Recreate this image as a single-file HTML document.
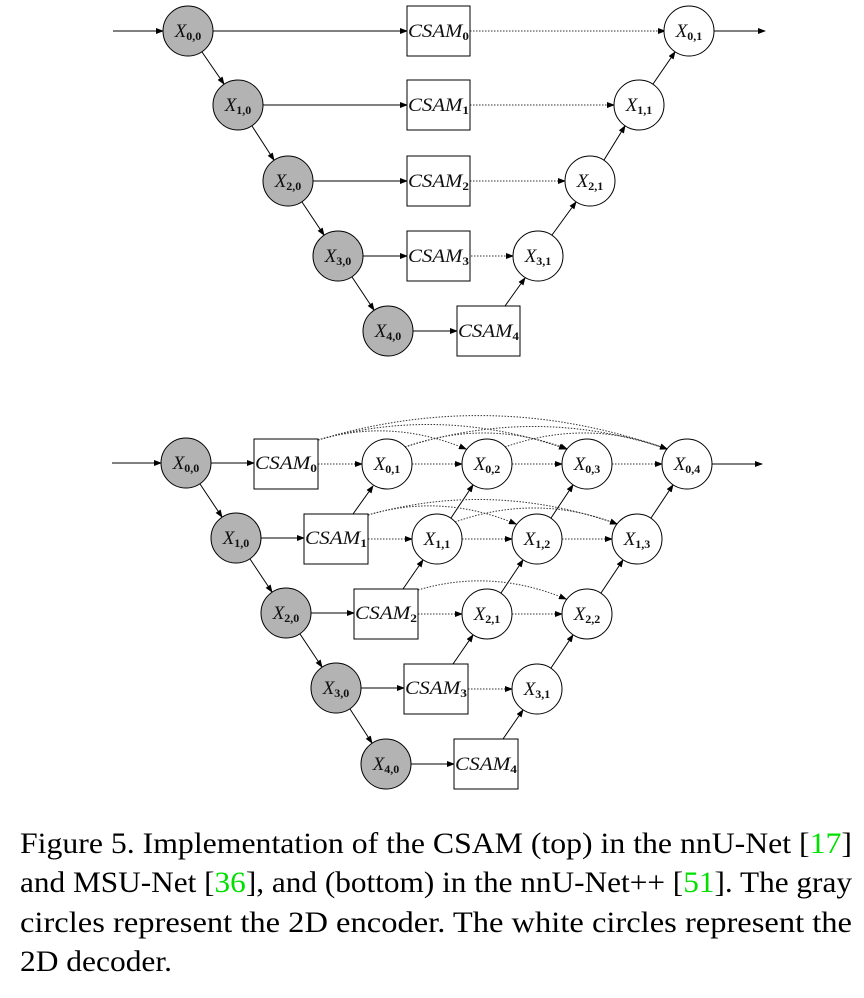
<!DOCTYPE html>
<html><head><meta charset="utf-8"><style>
body{margin:0;background:#fff;width:864px;height:998px;overflow:hidden}
svg{display:block}
.l{font-family:"Liberation Serif",serif;font-size:19px;fill:#111}
.s{font-size:12px;font-style:normal;font-weight:bold}
.cap{font-family:"Liberation Serif",serif;font-size:30px;fill:#000}
</style></head><body>
<svg width="864" height="998" viewBox="0 0 864 998">
<defs>
<marker id="a" markerWidth="8" markerHeight="6" refX="7" refY="3" orient="auto" markerUnits="userSpaceOnUse"><path d="M0,0 L8,3 L0,6 Z" fill="#000"/></marker>
</defs>
<g stroke="#000" stroke-width="1" fill="none" marker-end="url(#a)">
<line x1="113" y1="31" x2="163" y2="31"/>
<line x1="213" y1="31" x2="407" y2="31"/>
<line x1="263" y1="105" x2="407" y2="105"/>
<line x1="313" y1="181" x2="407" y2="181"/>
<line x1="363" y1="256" x2="407" y2="256"/>
<line x1="413" y1="331" x2="457" y2="331"/>
<line x1="202" y1="52" x2="224" y2="84"/>
<line x1="252" y1="126" x2="274" y2="160"/>
<line x1="302" y1="202" x2="324" y2="235"/>
<line x1="352" y1="277" x2="374" y2="310"/>
<line x1="505" y1="306" x2="525" y2="278"/>
<line x1="552" y1="235" x2="576" y2="202"/>
<line x1="604" y1="160" x2="625" y2="126"/>
<line x1="653" y1="84" x2="675" y2="52"/>
<line x1="714" y1="31" x2="765" y2="31"/>
<line x1="112" y1="463" x2="161" y2="463"/>
<line x1="211" y1="463" x2="254" y2="463"/>
<line x1="261" y1="538" x2="304" y2="538"/>
<line x1="311" y1="613" x2="354" y2="613"/>
<line x1="361" y1="688" x2="404" y2="688"/>
<line x1="411" y1="764" x2="454" y2="764"/>
<line x1="200" y1="484" x2="222" y2="517"/>
<line x1="250" y1="559" x2="272" y2="592"/>
<line x1="300" y1="634" x2="322" y2="667"/>
<line x1="350" y1="709" x2="372" y2="743"/>
<line x1="353" y1="514" x2="373" y2="486"/>
<line x1="451" y1="518" x2="473" y2="485"/>
<line x1="551" y1="518" x2="573" y2="485"/>
<line x1="651" y1="518" x2="673" y2="485"/>
<line x1="403" y1="589" x2="423" y2="560"/>
<line x1="501" y1="593" x2="523" y2="560"/>
<line x1="601" y1="593" x2="623" y2="560"/>
<line x1="453" y1="664" x2="473" y2="635"/>
<line x1="551" y1="668" x2="573" y2="635"/>
<line x1="503" y1="739" x2="523" y2="710"/>
<line x1="712" y1="464" x2="762" y2="464"/>
</g>
<g stroke="#333" stroke-width="1" stroke-dasharray="1.5,1.5" fill="none" marker-end="url(#a)">
<line x1="470" y1="31" x2="665" y2="31"/>
<line x1="470" y1="105" x2="614" y2="105"/>
<line x1="470" y1="181" x2="565" y2="181"/>
<line x1="471" y1="256" x2="513" y2="256"/>
<line x1="318" y1="464" x2="362" y2="464"/>
<line x1="412" y1="464" x2="462" y2="464"/>
<line x1="512" y1="464" x2="562" y2="464"/>
<line x1="612" y1="464" x2="662" y2="464"/>
<line x1="368" y1="539" x2="412" y2="539"/>
<line x1="462" y1="539" x2="512" y2="539"/>
<line x1="562" y1="539" x2="612" y2="539"/>
<line x1="418" y1="614" x2="462" y2="614"/>
<line x1="512" y1="614" x2="562" y2="614"/>
<line x1="468" y1="689" x2="512" y2="689"/>
<path d="M318,440 Q392,418 466,449"/>
<path d="M318,440 Q442,405 566,449"/>
<path d="M318,440 Q492,387 667,449"/>
<path d="M405,447 Q487,418 567,449"/>
<path d="M405,447 Q537,405 667,449"/>
<path d="M505,447 Q587,418 667,449"/>
<path d="M368,515 Q442,493 516,524"/>
<path d="M368,515 Q492,480 617,524"/>
<path d="M455,522 Q537,493 617,524"/>
<path d="M418,590 Q492,568 566,599"/>
</g>
<g stroke="#000" stroke-width="1">
<g fill="#b3b3b3">
<circle cx="188" cy="31" r="25"/><circle cx="238" cy="105" r="25"/><circle cx="288" cy="181" r="25"/><circle cx="338" cy="256" r="25"/><circle cx="388" cy="331" r="25"/>
<circle cx="186" cy="463" r="25"/><circle cx="236" cy="538" r="25"/><circle cx="286" cy="613" r="25"/><circle cx="336" cy="688" r="25"/><circle cx="386" cy="764" r="25"/>
</g>
<g fill="#fff">
<circle cx="689" cy="31" r="25"/><circle cx="639" cy="105" r="25"/><circle cx="590" cy="181" r="25"/><circle cx="538" cy="256" r="25"/>
<circle cx="387" cy="464" r="25"/><circle cx="487" cy="464" r="25"/><circle cx="587" cy="464" r="25"/><circle cx="687" cy="464" r="25"/>
<circle cx="437" cy="539" r="25"/><circle cx="537" cy="539" r="25"/><circle cx="637" cy="539" r="25"/>
<circle cx="487" cy="614" r="25"/><circle cx="587" cy="614" r="25"/><circle cx="537" cy="689" r="25"/>
<rect x="407" y="6" width="63" height="50"/><rect x="407" y="80" width="63" height="50"/><rect x="407" y="156" width="63" height="50"/><rect x="407" y="231" width="63" height="50"/><rect x="457" y="306" width="63" height="50"/>
<rect x="254" y="439" width="64" height="50"/><rect x="304" y="514" width="64" height="50"/><rect x="354" y="589" width="64" height="50"/><rect x="404" y="664" width="64" height="50"/><rect x="454" y="739" width="64" height="50"/>
</g>
</g>
<g class="l" font-style="italic" text-anchor="middle">
<text x="188" y="37">X<tspan class="s" dy="3">0,0</tspan></text>
<text x="238" y="111">X<tspan class="s" dy="3">1,0</tspan></text>
<text x="288" y="187">X<tspan class="s" dy="3">2,0</tspan></text>
<text x="338" y="262">X<tspan class="s" dy="3">3,0</tspan></text>
<text x="388" y="337">X<tspan class="s" dy="3">4,0</tspan></text>
<text x="689" y="37">X<tspan class="s" dy="3">0,1</tspan></text>
<text x="639" y="111">X<tspan class="s" dy="3">1,1</tspan></text>
<text x="590" y="187">X<tspan class="s" dy="3">2,1</tspan></text>
<text x="538" y="262">X<tspan class="s" dy="3">3,1</tspan></text>
<text x="186" y="469">X<tspan class="s" dy="3">0,0</tspan></text>
<text x="236" y="544">X<tspan class="s" dy="3">1,0</tspan></text>
<text x="286" y="619">X<tspan class="s" dy="3">2,0</tspan></text>
<text x="336" y="694">X<tspan class="s" dy="3">3,0</tspan></text>
<text x="386" y="770">X<tspan class="s" dy="3">4,0</tspan></text>
<text x="387" y="470">X<tspan class="s" dy="3">0,1</tspan></text>
<text x="487" y="470">X<tspan class="s" dy="3">0,2</tspan></text>
<text x="587" y="470">X<tspan class="s" dy="3">0,3</tspan></text>
<text x="687" y="470">X<tspan class="s" dy="3">0,4</tspan></text>
<text x="437" y="545">X<tspan class="s" dy="3">1,1</tspan></text>
<text x="537" y="545">X<tspan class="s" dy="3">1,2</tspan></text>
<text x="637" y="545">X<tspan class="s" dy="3">1,3</tspan></text>
<text x="487" y="620">X<tspan class="s" dy="3">2,1</tspan></text>
<text x="587" y="620">X<tspan class="s" dy="3">2,2</tspan></text>
<text x="537" y="695">X<tspan class="s" dy="3">3,1</tspan></text>
</g>
<g class="l" font-style="italic">
<text x="408" y="37" textLength="61" lengthAdjust="spacingAndGlyphs">CSAM<tspan class="s" dy="3" font-weight="normal">0</tspan></text>
<text x="408" y="111" textLength="61" lengthAdjust="spacingAndGlyphs">CSAM<tspan class="s" dy="3" font-weight="normal">1</tspan></text>
<text x="408" y="187" textLength="61" lengthAdjust="spacingAndGlyphs">CSAM<tspan class="s" dy="3" font-weight="normal">2</tspan></text>
<text x="408" y="262" textLength="61" lengthAdjust="spacingAndGlyphs">CSAM<tspan class="s" dy="3" font-weight="normal">3</tspan></text>
<text x="458" y="337" textLength="61" lengthAdjust="spacingAndGlyphs">CSAM<tspan class="s" dy="3" font-weight="normal">4</tspan></text>
<text x="255" y="469" textLength="62" lengthAdjust="spacingAndGlyphs">CSAM<tspan class="s" dy="3" font-weight="normal">0</tspan></text>
<text x="305" y="544" textLength="62" lengthAdjust="spacingAndGlyphs">CSAM<tspan class="s" dy="3" font-weight="normal">1</tspan></text>
<text x="355" y="619" textLength="62" lengthAdjust="spacingAndGlyphs">CSAM<tspan class="s" dy="3" font-weight="normal">2</tspan></text>
<text x="405" y="694" textLength="62" lengthAdjust="spacingAndGlyphs">CSAM<tspan class="s" dy="3" font-weight="normal">3</tspan></text>
<text x="455" y="770" textLength="62" lengthAdjust="spacingAndGlyphs">CSAM<tspan class="s" dy="3" font-weight="normal">4</tspan></text>
</g>
<g class="cap">
<text x="20" y="853" textLength="832" lengthAdjust="spacingAndGlyphs">Figure 5. Implementation of the CSAM (top) in the nnU-Net [<tspan fill="#00e000">17</tspan>]</text>
<text x="20" y="892" textLength="832" lengthAdjust="spacingAndGlyphs">and MSU-Net [<tspan fill="#00e000">36</tspan>], and (bottom) in the nnU-Net++ [<tspan fill="#00e000">51</tspan>]. The gray</text>
<text x="20" y="932" textLength="832" lengthAdjust="spacingAndGlyphs">circles represent the 2D encoder. The white circles represent the</text>
<text x="20" y="971" textLength="152" lengthAdjust="spacingAndGlyphs">2D decoder.</text>
</g>
</svg>
</body></html>
